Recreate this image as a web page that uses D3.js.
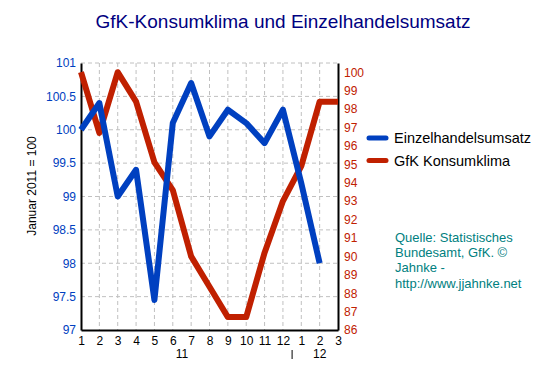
<!DOCTYPE html>
<html>
<head>
<meta charset="utf-8">
<script src="https://cdn.jsdelivr.net/npm/d3@7"></script>
<style>
body { margin: 0; background: #fff; }
svg { font-family: "Liberation Sans", Arial, sans-serif; display: block; }
</style>
</head>
<body>
<div id="chart"></div>
<script>
// data
const months = ["1","2","3","4","5","6","7","8","9","10","11","12","1","2","3"];
const einzelhandel = [100, 100.4, 99.0, 99.4, 97.45, 100.1, 100.7, 99.9, 100.3, 100.1, 99.8, 100.3, 99.2, 98.0, null];
const konsumklima = [100, 96.7, 100, 98.4, 95.1, 93.6, 90.0, 88.35, 86.7, 86.7, 90.2, 93.0, 94.9, 98.4, 98.4];
const leftTicks = [97, 97.5, 98, 98.5, 99, 99.5, 100, 100.5, 101];
const rightTicks = d3.range(86, 101);
const years = [{label: "11", from: 0, to: 11}, {label: "12", from: 12, to: 14}];

const blue = "#0040c0", red = "#c02000";

const margin = {top: 63, right: 215, bottom: 46, left: 81},
    width = 553 - margin.left - margin.right,
    height = 376 - margin.top - margin.bottom;

const svg = d3.select("#chart")
  .append("svg")
  .attr("width", 553)
  .attr("height", 376);

const g = svg.append("g")
  .attr("transform", `translate(${margin.left},${margin.top})`);

const x = d3.scaleLinear().domain([0, months.length - 1]).range([0, width]);
const yL = d3.scaleLinear().domain([97, 101]).range([height, 0]);
const yR = d3.scaleLinear().domain([86, 100.5]).range([height, 0]);

// grid
g.append("g").selectAll("line")
  .data(leftTicks.slice(1))
  .join("line")
  .attr("x1", 0).attr("x2", width)
  .attr("y1", d => yL(d)).attr("y2", d => yL(d))
  .attr("stroke", "#c0c0c0").attr("stroke-dasharray", "4,3");
g.append("g").selectAll("line")
  .data(d3.range(1, months.length - 1))
  .join("line")
  .attr("x1", d => x(d)).attr("x2", d => x(d))
  .attr("y1", 0).attr("y2", height)
  .attr("stroke", "#c0c0c0").attr("stroke-dasharray", "4,3");

// left axis
const axL = g.append("g")
  .call(d3.axisLeft(yL).tickValues(leftTicks).tickSize(0).tickPadding(5).tickFormat(d3.format("")));
axL.select(".domain").attr("stroke", "#000").attr("stroke-width", 2);
axL.selectAll("text").attr("fill", blue).attr("font-size", 12).attr("font-family", "Liberation Sans, Arial, sans-serif");

// right axis
const axR = g.append("g")
  .attr("transform", `translate(${width},0)`)
  .call(d3.axisRight(yR).tickValues(rightTicks).tickSize(0).tickPadding(6).tickFormat(d3.format("d")));
axR.select(".domain").attr("stroke", "#000").attr("stroke-width", 2);
axR.selectAll("text").attr("fill", red).attr("font-size", 12).attr("font-family", "Liberation Sans, Arial, sans-serif");

// bottom axis
const axB = g.append("g")
  .attr("transform", `translate(0,${height})`)
  .call(d3.axisBottom(x).tickValues(d3.range(months.length)).tickSize(0).tickPadding(6).tickFormat(i => months[i]));
axB.select(".domain").attr("stroke", "#000").attr("stroke-width", 2);
axB.selectAll("text").attr("fill", "#000").attr("font-size", 12).attr("font-family", "Liberation Sans, Arial, sans-serif");

// year labels
g.selectAll(".year")
  .data(years)
  .join("text")
  .attr("class", "year")
  .attr("x", d => (x(d.from) + x(d.to)) / 2)
  .attr("y", height + 28)
  .attr("text-anchor", "middle")
  .attr("font-size", 12)
  .text(d => d.label);
g.append("line")
  .attr("x1", (x(11) + x(12)) / 2).attr("x2", (x(11) + x(12)) / 2)
  .attr("y1", height + 20).attr("y2", height + 29)
  .attr("stroke", "#000").attr("stroke-width", 1);

// lines
const lineL = d3.line().defined(d => d != null).x((d, i) => x(i)).y(d => yL(d));
const lineR = d3.line().defined(d => d != null).x((d, i) => x(i)).y(d => yR(d));

g.append("path").datum(konsumklima)
  .attr("d", lineR).attr("fill", "none")
  .attr("stroke", red).attr("stroke-width", 6).attr("stroke-linejoin", "round");
g.append("path").datum(einzelhandel)
  .attr("d", lineL).attr("fill", "none")
  .attr("stroke", blue).attr("stroke-width", 6).attr("stroke-linejoin", "round");

// title
svg.append("text")
  .attr("x", 283).attr("y", 28)
  .attr("text-anchor", "middle")
  .attr("font-size", 19)
  .attr("fill", "#000080")
  .text("GfK-Konsumklima und Einzelhandelsumsatz");

// y title
svg.append("text")
  .attr("transform", "translate(36,186) rotate(-90)")
  .attr("text-anchor", "middle")
  .attr("font-size", 12)
  .attr("fill", "#000")
  .text("Januar 2011 = 100");

// legend
const legend = svg.append("g").attr("transform", "translate(369,138)");
const items = [{name: "Einzelhandelsumsatz", color: blue}, {name: "GfK Konsumklima", color: red}];
const li = legend.selectAll("g").data(items).join("g")
  .attr("transform", (d, i) => `translate(0,${i * 22.5})`);
li.append("line").attr("x1", 0).attr("x2", 17).attr("y1", 0).attr("y2", 0)
  .attr("stroke", d => d.color).attr("stroke-width", 5).attr("stroke-linecap", "round");
li.append("text").attr("x", 25).attr("y", 5).attr("font-size", 14.5).text(d => d.name);

// source
const sourceLines = ["Quelle: Statistisches", "Bundesamt, GfK. \u00a9", "Jahnke -", "http://www.jjahnke.net"];
svg.append("g").selectAll("text").data(sourceLines).join("text")
  .attr("x", 395).attr("y", (d, i) => 242 + i * 15.2)
  .attr("font-size", 13).attr("fill", "#008080")
  .text(d => d);
</script>
</body>
</html>
